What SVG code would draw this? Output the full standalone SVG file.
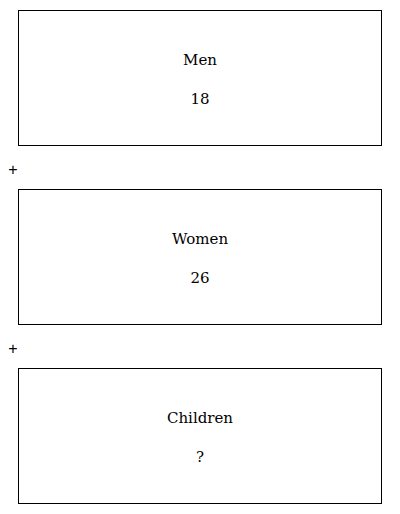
<svg xmlns="http://www.w3.org/2000/svg" width="400" height="514" viewBox="0 0 400 514">
<style>
.box{fill:#fff;stroke:#000;stroke-width:1}
.t{font-family:"DejaVu Serif","Liberation Serif",serif;font-size:15px;text-anchor:middle;fill:#000}
.p{font-family:"Liberation Sans","DejaVu Sans",sans-serif;font-size:16px;text-anchor:middle;fill:#000}
</style>
<rect width="400" height="514" fill="#fff"/>
<g id="men">
<rect class="box" x="18.5" y="10.5" width="363" height="135"/>
<text class="t" x="200" y="65">Men</text>
<text class="t" x="200" y="104">18</text>
</g>
<g id="women">
<rect class="box" x="18.5" y="189.5" width="363" height="135"/>
<text class="t" x="200" y="244">Women</text>
<text class="t" x="200" y="283">26</text>
</g>
<g id="children">
<rect class="box" x="18.5" y="368.5" width="363" height="135"/>
<text class="t" x="200" y="423">Children</text>
<text class="t" x="200" y="462">?</text>
</g>
<g id="connectors">
<text class="p" x="13" y="175">+</text>
<text class="p" x="13" y="354">+</text>
</g>
</svg>
